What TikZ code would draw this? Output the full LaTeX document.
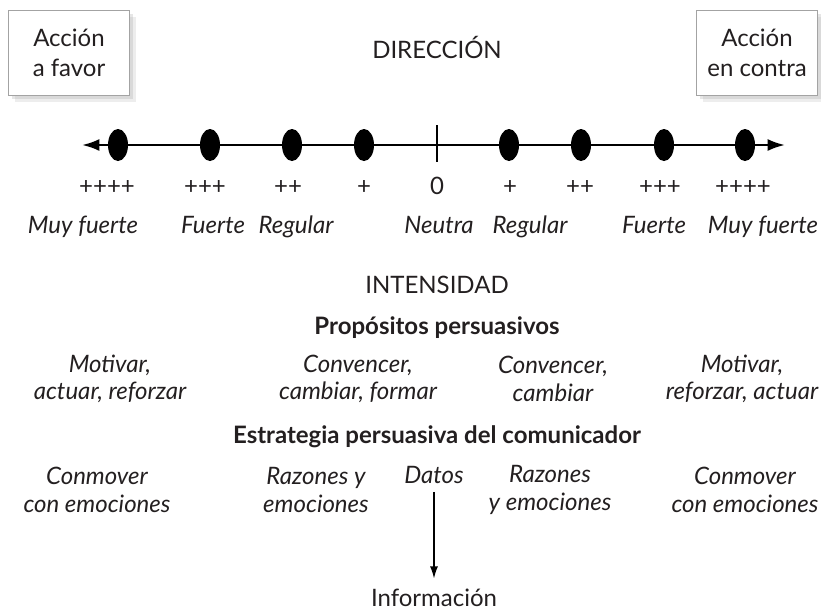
\documentclass[tikz,border=0pt]{standalone}
\usepackage{fontspec}
\setmainfont{Lato}
\usetikzlibrary{arrows.meta,positioning,shapes.geometric,shadows}
\definecolor{dirink}{HTML}{231F20}
\definecolor{dirframe}{HTML}{A3A3A3}
\definecolor{dirshade}{HTML}{9C9C9C}
\tikzset{
  tx/.style={text=dirink, inner sep=0pt, align=center, font=\fontsize{18}{20.5}\selectfont},
  itx/.style={tx, font=\fontsize{18}{20.5}\selectfont\itshape},
  hd/.style={tx, font=\fontsize{18}{20.5}\selectfont\bfseries},
  sline/.style={text height=12.5pt, text depth=3.5pt},
  actbox/.style={tx, draw=dirframe, line width=1pt, fill=white, minimum width=91pt, minimum height=64pt, font=\fontsize{18}{23}\selectfont,
    drop shadow={fill=dirshade, opacity=0.18, shadow xshift=5pt, shadow yshift=-5pt},
    drop shadow={fill=dirshade, opacity=0.25, shadow xshift=2.5pt, shadow yshift=-2.5pt}},
  blob/.style={ellipse, fill=black, minimum width=15pt, minimum height=24pt, inner sep=0pt},
  axisln/.style={{Latex[length=13pt,width=9pt]}-{Latex[length=13pt,width=9pt]}, line width=1.8pt, color=black},
  arr/.style={-{Latex[length=9pt,width=6pt]}, line width=0.9pt, color=black},
}
\begin{document}
\begin{tikzpicture}[x=0.75pt, y=-0.75pt]
  \useasboundingbox (0,0) rectangle (821,611);
  % direccion
  \node[actbox] (afavor) at (69,53) {Acción\\a favor};
  \node[actbox] (encontra) at (757,53) {Acción\\en contra};
  \node[tx, sline] (dir) at (437,52) {DIRECCIÓN};
  \coordinate (lend) at (82,145);
  \coordinate (rend) at (785,145);
  \draw[axisln] (lend) -- (rend);
  \coordinate (ttop) at (437,125);
  \coordinate (tbot) at (437,162);
  \draw[line width=1pt] (ttop) -- (tbot);
  \foreach \x [count=\i] in {118,210,292,364,509,581,664,745}
    \node[blob] (d\i) at (\x,145) {};
  % intensidad
  \foreach \x/\s [count=\i] in {107/++++,205/+++,288/++,364/+,437/0,510/+,580/++,660/+++,743/++++}
    \node[tx, sline] (p\i) at (\x,188) {\s};
  \foreach \x/\s [count=\i] in {83/Muy fuerte,213/Fuerte,296/Regular,439/Neutra,530/Regular,654/Fuerte,763/Muy fuerte}
    \node[itx, sline] (g\i) at (\x,227) {\s};
  \node[tx, sline] (int) at (437,287) {INTENSIDAD};
  % propositos
  \node[hd, sline] (prop) at (437,328) {Propósitos persuasivos};
  \node[itx] (m1) at (110,379) {Motivar,\\actuar, reforzar};
  \node[itx] (m2) at (358,379) {Convencer,\\cambiar, formar};
  \node[itx] (m3) at (553,379) {Convencer,\\cambiar};
  \node[itx] (m4) at (742,379) {Motivar,\\reforzar, actuar};
  % estrategia
  \node[hd, sline] (estr) at (437,437) {Estrategia persuasiva del comunicador};
  \node[itx] (c1) at (97,490) {Conmover\\con emociones};
  \node[itx] (c2) at (316,490) {Razones y\\emociones};
  \node[itx, sline] (datos) at (434,477) {Datos};
  \node[itx] (c3) at (550,490) {Razones\\y emociones};
  \node[itx] (c4) at (745,490) {Conmover\\con emociones};
  \node[tx, sline] (info) at (434,600) {Información};
  \draw[arr, shorten <=3pt, shorten >=8pt] (datos) -- (info);
\end{tikzpicture}
\end{document}
